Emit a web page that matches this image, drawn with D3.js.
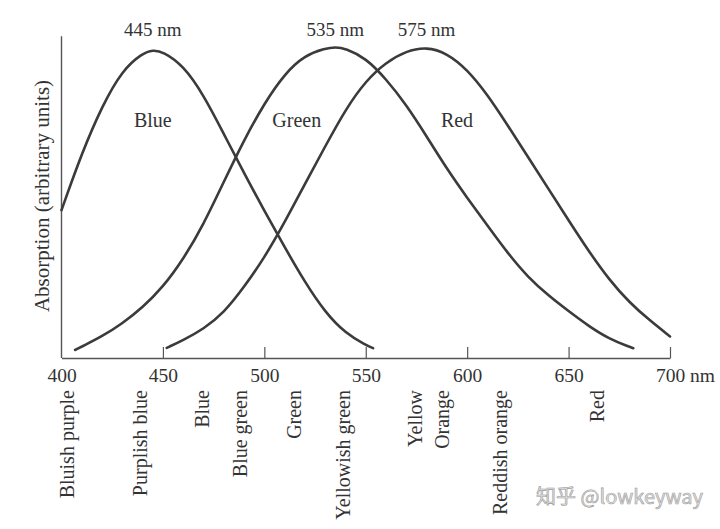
<!DOCTYPE html>
<html>
<head>
<meta charset="utf-8">
<script src="https://cdn.jsdelivr.net/npm/d3@7"></script>
<style>
  html, body { margin: 0; padding: 0; background: #fff; }
  svg { display: block; }
</style>
</head>
<body>
<svg id="chart" width="720" height="529"></svg>
<script>
// ---------- data ----------
const blueNm  = [400, 410, 420, 430, 440, 445, 450, 460, 470, 480, 490, 500, 510, 520, 530, 540, 550, 553.6];
const blueAbs = [0.48, 0.665, 0.818, 0.935, 0.99, 1.0, 0.995, 0.95, 0.855, 0.728, 0.6, 0.478, 0.36, 0.246, 0.148, 0.08, 0.042, 0.032];

const greenNm  = [406.7, 410, 420, 430, 440, 450, 460, 470, 480, 490, 500, 510, 520, 530, 535, 540, 550, 560, 570, 580, 590, 600, 610, 620, 630, 640, 650, 660, 670, 680, 681.9];
const greenAbs = [0.026, 0.037, 0.07, 0.112, 0.164, 0.23, 0.32, 0.433, 0.572, 0.708, 0.827, 0.923, 0.983, 1.005, 1.01, 1.005, 0.974, 0.906, 0.822, 0.72, 0.614, 0.52, 0.43, 0.34, 0.262, 0.203, 0.152, 0.103, 0.062, 0.036, 0.032];

const redNm  = [451.9, 460, 470, 480, 490, 500, 510, 520, 530, 540, 550, 560, 570, 580, 590, 600, 610, 620, 630, 640, 650, 660, 670, 680, 690, 700];
const redAbs = [0.033, 0.058, 0.094, 0.146, 0.23, 0.325, 0.44, 0.565, 0.687, 0.807, 0.9, 0.96, 0.997, 1.01, 0.99, 0.937, 0.855, 0.755, 0.653, 0.55, 0.447, 0.346, 0.254, 0.18, 0.122, 0.07];

const curveNames   = ["Blue", "Green", "Red"];
const peakLabels   = ["445 nm", "535 nm", "575 nm"];
const curveLabelNm = [445, 516, 595];
const curveLabelAbs = 0.75;

const tickValues = [400, 450, 500, 550, 600, 650, 700];

const colorNames = ["Bluish purple", "Purplish blue", "Blue", "Blue green", "Green", "Yellowish green", "Yellow", "Orange", "Reddish orange", "Red"];
const colorNameNm = [402.7, 438.7, 469.3, 488, 514.6, 538.8, 574.3, 587.6, 616.2, 664];

const yAxisLabel = "Absorption (arbitrary units)";
const watermark = "知乎 @lowkeyway";

// ---------- layout ----------
const svg = d3.select("#chart");
const serif = "'Liberation Serif', 'Times New Roman', serif";
const ink = "#3b3b3b";
const textInk = "#333";

const x = d3.scaleLinear().domain([400, 700]).range([61.5, 670]);
const y = d3.scaleLinear().domain([0, 1]).range([358, 50]);
const yTop = 1.045;

const series = [
  blueNm.map((d, i) => ({nm: d, a: blueAbs[i]})),
  greenNm.map((d, i) => ({nm: d, a: greenAbs[i]})),
  redNm.map((d, i) => ({nm: d, a: redAbs[i]}))
];

// y axis line (no ticks)
svg.append("line")
  .attr("x1", x(400)).attr("x2", x(400))
  .attr("y1", y(0)).attr("y2", y(yTop))
  .attr("stroke", "#555").attr("stroke-width", 1.4);

// x axis
const xAxis = d3.axisBottom(x)
  .tickValues(tickValues)
  .tickSizeInner(-11)
  .tickSizeOuter(0)
  .tickPadding(10)
  .tickFormat(d3.format("d"));

const gx = svg.append("g")
  .attr("transform", `translate(0,${y(0)})`)
  .call(xAxis);
gx.select(".domain").attr("stroke", "#555").attr("stroke-width", 1.4);
gx.selectAll(".tick line").attr("stroke", "#555").attr("stroke-width", 1.2)
  .filter(d => d === 400).remove();
gx.selectAll(".tick text")
  .attr("font-family", serif).attr("font-size", 19.5).attr("fill", textInk);
// last tick: "700 nm", with the number centred on the tick
gx.selectAll(".tick text").filter(d => d === 700).each(function() {
  const t = d3.select(this);
  const w = this.getComputedTextLength();
  t.attr("text-anchor", "start").attr("x", -w / 2).text("700 nm");
});

// curves
const line = d3.line()
  .x(d => x(d.nm))
  .y(d => y(d.a))
  .curve(d3.curveBasis);

svg.append("g").selectAll("path")
  .data(series)
  .join("path")
  .attr("d", line)
  .attr("fill", "none")
  .attr("stroke", ink)
  .attr("stroke-width", 2.6)
  .attr("stroke-linecap", "round");

// peak labels at the maximum of each curve
series.forEach((s, i) => {
  const pk = s.reduce((m, d) => d.a > m.a ? d : m, s[0]);
  svg.append("text")
    .attr("x", x(pk.nm)).attr("y", 36)
    .attr("text-anchor", "middle")
    .attr("font-family", serif).attr("font-size", 19)
    .attr("fill", textInk)
    .text(peakLabels[i]);
});

// curve names
svg.append("g").selectAll("text")
  .data(curveNames)
  .join("text")
  .attr("x", (d, i) => x(curveLabelNm[i]))
  .attr("y", y(curveLabelAbs))
  .attr("text-anchor", "middle")
  .attr("font-family", serif).attr("font-size", 20)
  .attr("fill", textInk)
  .text(d => d);

// colour-name labels (rotated)
svg.append("g").selectAll("text")
  .data(colorNames)
  .join("text")
  .attr("transform", (d, i) => `translate(${x(colorNameNm[i])},390) rotate(-90)`)
  .attr("text-anchor", "end")
  .attr("dy", "0.35em")
  .attr("font-family", serif).attr("font-size", 20)
  .attr("fill", textInk)
  .text(d => d);

// y axis label
svg.append("text")
  .attr("transform", `translate(42,${(80 + 312) / 2}) rotate(-90)`)
  .attr("text-anchor", "middle")
  .attr("dy", "0.35em")
  .attr("font-family", serif).attr("font-size", 21)
  .attr("fill", textInk)
  .text(yAxisLabel);

// watermark
svg.append("text")
  .attr("x", 703).attr("y", 504)
  .attr("text-anchor", "end")
  .attr("font-family", "'Noto Sans CJK SC', 'Noto Sans', sans-serif")
  .attr("font-size", 20)
  .attr("fill", "#e2e2e2")
  .attr("stroke", "#9a9a9a")
  .attr("stroke-width", 0.6)
  .text(watermark);
</script>
</body>
</html>
